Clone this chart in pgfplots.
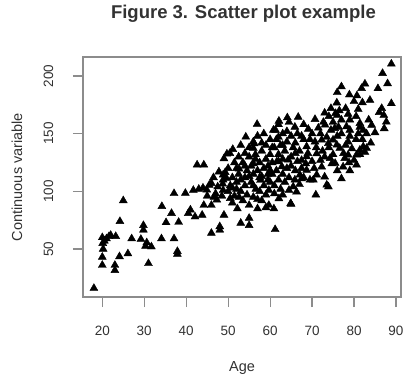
\documentclass[border=0pt]{standalone}
\usepackage{fontspec}
\setmainfont{Liberation Sans}
\usepackage{pgfplots}
\pgfplotsset{compat=1.18}
\definecolor{axisgray}{RGB}{140,140,140}
\definecolor{txtgray}{RGB}{50,50,50}
\begin{document}
\begin{tikzpicture}
\useasboundingbox (-83bp,-82bp) rectangle (323bp,297bp);
\begin{axis}[
  scale only axis,
  width=318bp, height=240bp,
  xmin=15.4, xmax=91.2, ymin=8.4, ymax=216.5,
  xtick={20,30,40,50,60,70,80,90},
  ytick={50,100,150,200},
  xtick pos=bottom, ytick pos=left,
  tick align=outside,
  major tick length=10bp,
  minor tick num=0,
  axis line style={draw=axisgray, line width=1.2bp},
  major tick style={draw=axisgray, line width=1.2bp},
  /pgf/number format/assume math mode=true,
  ticklabel style={font=\fontsize{13.5bp}{16bp}\selectfont, text=txtgray},
  xticklabel style={anchor=center},
  yticklabel style={rotate=90, anchor=center},
  xticklabel shift=24bp,
  yticklabel shift=24.5bp,
  xlabel={Age},
  ylabel={Continuous variable},
  label style={font=\fontsize{14.5bp}{17bp}\selectfont, text=txtgray},
  xlabel style={at={(axis description cs:0.5,-0.2958)}, anchor=center},
  ylabel style={at={(axis description cs:-0.2075,0.5)}, anchor=center, rotate=0},
  title={Figure 3. Scatter plot example},
  title style={at={(axis description cs:0.5047,1.154)}, anchor=center, font=\fontsize{18.5bp}{21bp}\selectfont\bfseries, text=txtgray},
  clip=false,
]
\addplot[only marks, mark=triangle*, mark size=4.6bp, mark options={draw=black, fill=black, line width=0.4bp}] coordinates {
(18,16) (20,60) (20.5,57) (21,59) (21.6,61) (20.1,55) (20.2,50) (20,43) (20,36) (22,62) (23.2,61) (23,36) (23,31.5) (24.1,43.5) (24.2,74) (25,92) (26.1,46) (27,59) (29.2,58.5) (29.8,70.5) (29.8,66.5) (30.6,55.5) (31.7,52) (30.3,52.5) (31,37.5) (34.1,59) (34.2,87) (35.2,73) (36.5,81) (37.1,98.2) (37.1,59) (37.9,48) (37.9,45.5) (38.2,73.3)
(39.8,98.4) (40.5,81) (41.7,101) (41,84) (42.1,78) (42.6,123) (44.2,123) (43.8,79.5) (44.2,88) (44.9,101.3) (46,107) (46,88) (46.6,95) (46,63.8) (47.3,92.6) (48,69.5) (48,66.5) (48.8,110) (48.8,101) (49,79.5) (49,128.4) (49.7,132.5) (49.3,116.5) (49.6,111.4) (48.7,106.5) (48.8,114.3) (44,103) (43,102) (45.5,105.5) (47,98) (47.5,104) (48.5,96) (46.5,112) (47.8,117) (45,96)
(50.4,133) (51.1,136.5) (52,120) (52.6,119.5) (52.2,85) (52.6,95) (53,72.5) (54.2,147.2) (55,76.8) (55,70.5) (56,143) (56,137.4) (56.2,141.4) (56.6,102) (56.9,158.2) (57.7,109.7) (59.7,88) (59.7,101) (60.8,153.2) (61.2,67) (60.9,85)
(50,100) (50.5,105) (51,112) (51.5,96) (51,90) (52,108) (52.5,115) (53,100) (53.5,92) (53.5,125) (54,105) (54,112) (54.5,118) (54.5,97) (55,88) (55,130) (55.5,108) (55.5,122) (56,115) (56,95) (56.5,128) (57,85) (57,118) (57.5,125) (57.5,100) (58,135) (58,113) (58,92) (58.5,120) (58.5,105) (59,140) (59,128) (59,97) (59.5,115) (59.5,122) (60,132) (60,108) (60,145) (50,120) (51.5,125) (52.5,130) (53,140) (55,138) (57,148) (58.5,150) (56,105) (53,110) (51,103) (57,93) (59,86) (54,133) (56.5,132) (58,142) (50.5,94) (52,102) (55,113) (57.5,112) (59.5,110) (56,124) (54,122)
(61.3,153) (62.1,161) (64.1,163.9) (64.5,160) (62,158) (61.6,125.8) (62.8,121.5) (64.3,127.3) (62.1,93.8) (64.9,89.5) (64.5,101) (65.9,110) (67.1,114.3) (66.3,99.6) (67.5,111) (66.7,164.4) (67.5,148) (68.7,138.8) (68.7,130.1) (69.1,154) (67.5,127) (68.7,118.4) (65.9,155.8) (65,89)
(60.5,115) (60.5,125) (61,138) (61,105) (61.5,145) (61.5,118) (62,110) (62,132) (62.5,140) (62.5,102) (63,128) (63,115) (63,150) (63.5,135) (63.5,108) (64,120) (64,143) (64.5,112) (65,130) (65,148) (65,122) (65.5,138) (65.5,104) (66,118) (66,142) (66.5,126) (67,135) (67,106) (67.5,120) (68,145) (68,112) (68.5,124) (69,133) (69.5,145) (69.5,110) (70,126) (70,150) (60,118) (61,98) (63,97) (62,147) (64,152) (66.5,150) (60.5,138) (62,126) (66,133) (68,158) (63,140)
(70.7,143) (72.3,144.6) (73.9,141.7) (75,144.6) (75.9,140.3) (76.6,137.4) (78.6,143) (70.7,162.5) (72.7,160) (73.1,157.6) (74.5,153.2) (75.4,154.7) (76.3,155.8) (78.2,156.1) (79,153.2) (75.6,167.7) (76,166) (78.6,167) (75.9,176.8) (76,185.8) (77,190.8) (78.9,183.8) (80.7,183) (78.6,131.6) (77.8,128.7) (80.6,131.6) (80,127) (78.8,125) (77.4,121.3) (75.5,124.4) (74.3,128.7) (74.7,124) (72.3,121.2) (71.1,132.7) (77,111) (73.5,105.6) (70.3,110) (71.1,114.3) (73.9,104) (70.9,97) (73,112.6) (80.6,123)
(71,138) (72,150) (72.5,135) (73,130) (73.5,147) (74,165) (74,138) (75,160) (75,132) (76,148) (76.5,170) (77,162) (77,150) (77.5,133) (78,140) (78,172) (79,148) (79,162) (79.5,137) (74.5,172) (73,168) (71.5,155) (72,127) (76,118) (79,118) (70.5,120)
(81.4,135.9) (82.2,138.8) (83,137.4) (82.6,134) (81.4,132) (81.8,189.3) (82.6,193.2) (83.8,179.1) (85.7,189.2) (86.8,202.4) (88.9,210.5) (88,193.5) (88.9,176.2) (86.6,172) (86,168.5) (87.1,166) (87.7,160.2) (81,171.2) (84.2,157.5) (85,151) (87.2,154.5) (82.2,153.2) (81.4,159) (81.4,155.8)
(80.5,145) (81,150) (82,145) (83,150) (83.5,162) (84,142) (80.5,165) (82,177) (80,178)
};
\end{axis}
\end{tikzpicture}
\end{document}
